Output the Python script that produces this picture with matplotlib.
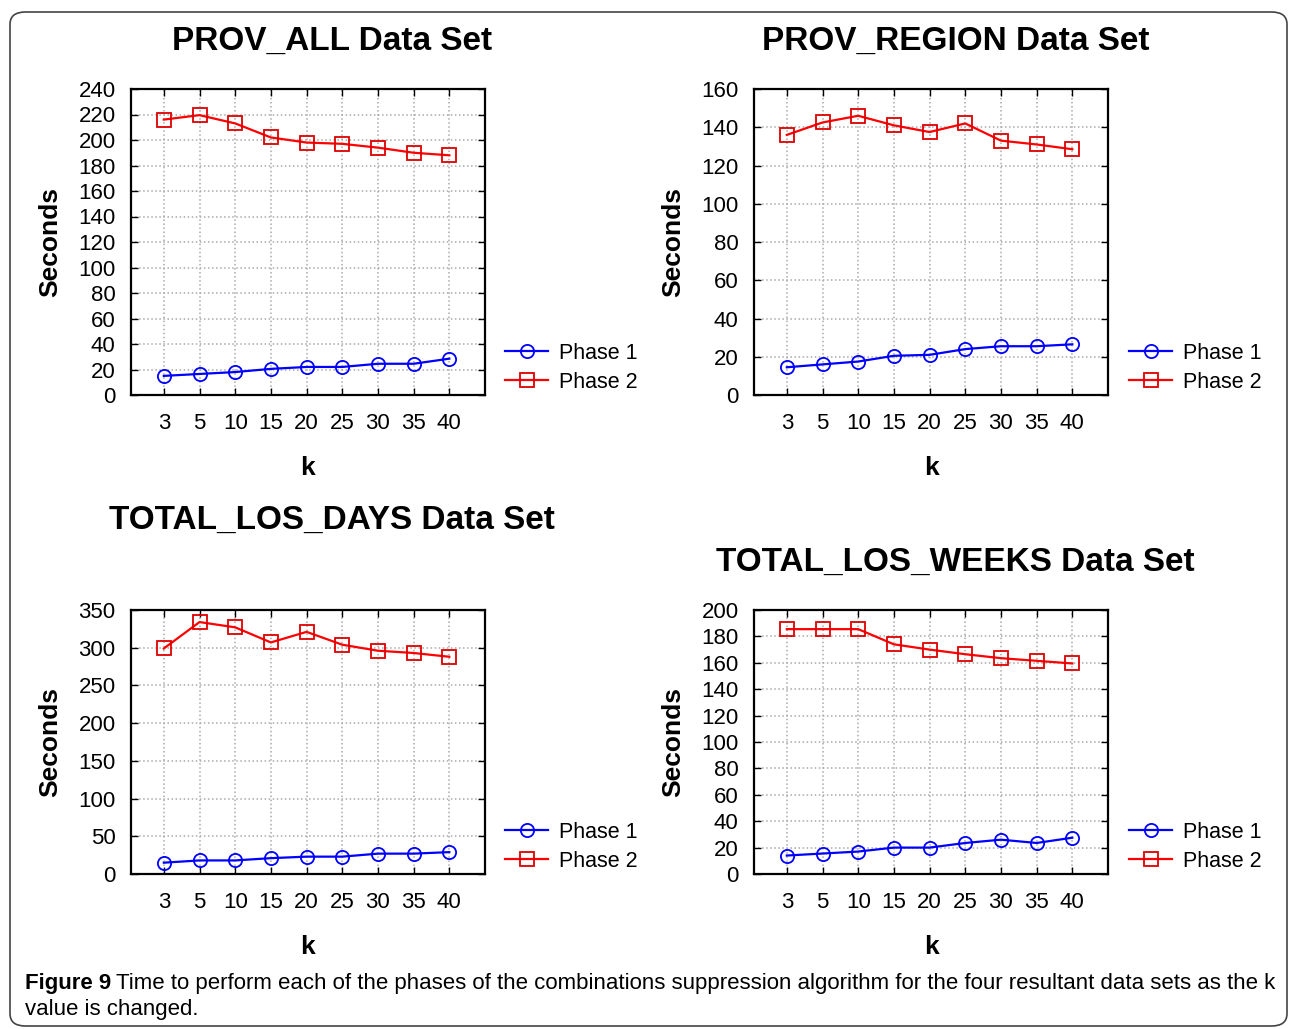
import matplotlib
matplotlib.use("Agg")
import matplotlib.pyplot as plt
from matplotlib.patches import FancyBboxPatch
import numpy as np

plt.rcParams['font.family'] = ['Liberation Sans', 'DejaVu Sans']

k_values = ['3', '5', '10', '15', '20', '25', '30', '35', '40']

prov_all_p1 = [15, 16.5, 18, 20.5, 22, 22, 24.5, 24.5, 28.5]
prov_all_p2 = [216, 219.5, 213, 202, 198, 197, 194, 190, 188]
prov_region_p1 = [14.5, 16, 17.5, 20.5, 21, 24, 25.5, 25.5, 26.5]
prov_region_p2 = [136, 142.5, 146, 141, 137.5, 142, 133, 131, 128.5]
los_days_p1 = [15, 18, 18, 21, 23, 23, 27, 27, 29]
los_days_p2 = [299, 334, 327, 307, 321, 304, 296, 293, 288]
los_weeks_p1 = [14, 15.5, 17, 20, 20, 23.5, 26, 23.5, 27.5]
los_weeks_p2 = [185.5, 185.5, 185.5, 174, 170, 166.5, 163.5, 161.5, 159.5]

titles = ['PROV_ALL Data Set', 'PROV_REGION Data Set',
          'TOTAL_LOS_DAYS Data Set', 'TOTAL_LOS_WEEKS Data Set']

W, H = 1290, 1029


def px(x, y):
    return x / W, 1 - y / H


def draw_panel(fig, rect, p1, p2, ymax, ystep, title, title_xy, legend_xy):
    ax = fig.add_axes(rect)
    x = np.arange(1, len(k_values) + 1)
    ax.plot(x, p1, color='#0000ff', lw=1.6, marker='o', ms=9.5, mfc='none',
            mec='#0000ff', mew=1.3, label='Phase 1')
    ax.plot(x, p2, color='#ff0000', lw=1.6, marker='s', ms=10.5, mfc='none',
            mec='#dd0000', mew=1.3, label='Phase 2')
    ax.set_xlim(0.08, 10.0)
    ax.set_ylim(0, ymax)
    ax.set_xticks(x)
    ax.set_xticklabels(k_values)
    ax.set_yticks(np.arange(0, ymax + 1, ystep))
    ax.tick_params(direction='in', top=True, right=True, length=5,
                   labelsize=16, width=1)
    ax.tick_params(axis='x', pad=13)
    ax.tick_params(axis='y', pad=11)
    ax.grid(True, linestyle=':', color='#aaaaaa', lw=1.1)
    for s in ax.spines.values():
        s.set_linewidth(1.6)
    ax.set_xlabel('k', fontsize=19, fontweight='bold', labelpad=16)
    ax.set_ylabel('Seconds', fontsize=19, fontweight='bold', labelpad=12)
    fig.text(*px(*title_xy), title, fontsize=24, fontweight='bold',
             ha='center', va='center')
    ax.legend(loc='upper left', bbox_to_anchor=px(*legend_xy),
              bbox_transform=fig.transFigure, frameon=False, fontsize=15.5,
              handlelength=2.0, handletextpad=0.5, labelspacing=0.35,
              borderaxespad=0, borderpad=0)
    return ax


fig = plt.figure(figsize=(W / 100, H / 100), dpi=100)

fig.patches.append(FancyBboxPatch(px(10, 1026), 1277 / W, 1014 / H,
                                  boxstyle='round,pad=0,rounding_size=0.012',
                                  transform=fig.transFigure, fill=False,
                                  edgecolor='#444444', lw=1.2))

top_h = 306 / H
bot_h = 264 / H
draw_panel(fig, [131 / W, 1 - 395 / H, 354 / W, top_h], prov_all_p1, prov_all_p2,
           240, 20, titles[0], (332, 41), (505, 343))
draw_panel(fig, [754 / W, 1 - 395 / H, 354 / W, top_h], prov_region_p1, prov_region_p2,
           160, 20, titles[1], (956, 41), (1129, 343))
draw_panel(fig, [131 / W, 1 - 874 / H, 354 / W, bot_h], los_days_p1, los_days_p2,
           350, 50, titles[2], (332, 520), (505, 822))
draw_panel(fig, [754 / W, 1 - 874 / H, 354 / W, bot_h], los_weeks_p1, los_weeks_p2,
           200, 20, titles[3], (955, 562), (1129, 822))

# caption: bold label followed by regular text
fig.canvas.draw()
cap = fig.text(*px(25, 983), 'Figure 9', fontsize=16, fontweight='bold',
               ha='left', va='center')
bb = cap.get_window_extent(fig.canvas.get_renderer())
fig.text((bb.x1 + 5) / W, 1 - 983 / H,
         'Time to perform each of the phases of the combinations suppression '
         'algorithm for the four resultant data sets as the k',
         fontsize=16, ha='left', va='center')
fig.text(*px(25, 1010), 'value is changed.', fontsize=16, ha='left', va='center')

fig.savefig('out.png', dpi=100)
